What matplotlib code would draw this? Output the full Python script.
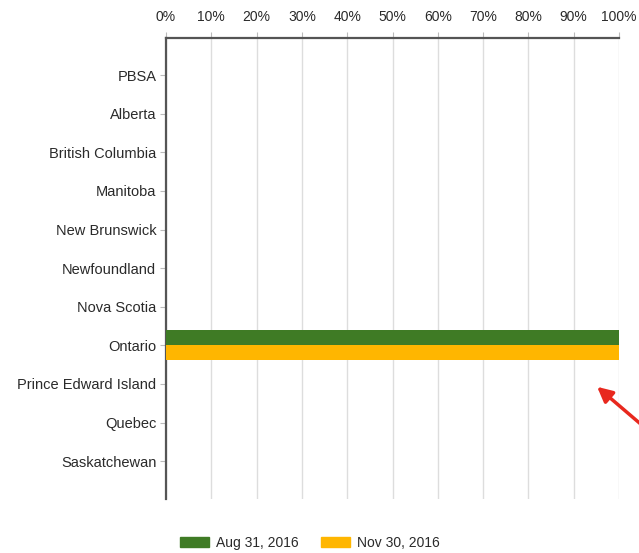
import matplotlib
matplotlib.use("Agg")
import matplotlib.pyplot as plt
from matplotlib.patches import Patch
import numpy as np

categories = ["PBSA", "Alberta", "British Columbia", "Manitoba", "New Brunswick",
              "Newfoundland", "Nova Scotia", "Ontario", "Prince Edward Island",
              "Quebec", "Saskatchewan"]
aug_2016 = [0, 0, 0, 0, 0, 0, 0, 100, 0, 0, 0]
nov_2016 = [0, 0, 0, 0, 0, 0, 0, 100, 0, 0, 0]
series_names = ["Aug 31, 2016", "Nov 30, 2016"]
xticks = list(range(0, 101, 10))

plt.rcParams['font.family'] = ['Liberation Sans', 'DejaVu Sans']

fig = plt.figure(figsize=(6.39, 5.53), dpi=100)
ax = fig.add_axes([166/639, 1-499/553, (619-166)/639, (499-38)/553])

y = np.arange(len(categories))
h = 0.39
green = "#3f7b25"
yellow = "#ffb600"
ax.barh(y - h/2, aug_2016, height=h, color=green, zorder=3)
ax.barh(y + h/2, nov_2016, height=h, color=yellow, zorder=3)

ax.set_xlim(0, 100)
ax.set_ylim(10.98, -0.96)
ax.set_yticks(y)
ax.set_yticklabels(categories)
ax.set_xticks(xticks)
ax.set_xticklabels([f"{v}%" for v in xticks])
ax.xaxis.tick_top()
ax.tick_params(axis='x', length=4, color="#bbbbbb", labelsize=10, labelcolor="#2a2a2a", pad=6)
ax.tick_params(axis='y', length=4, color="#bbbbbb", labelsize=10.5, labelcolor="#2a2a2a", pad=3)
ax.grid(axis='x', color="#dddddd", linewidth=1, zorder=0)
for s in ["right", "bottom"]:
    ax.spines[s].set_visible(False)
ax.spines["left"].set_color("#555555")
ax.spines["left"].set_linewidth(1.6)
ax.spines["top"].set_color("#555555")
ax.spines["top"].set_linewidth(1.6)

handles = [Patch(color=green), Patch(color=yellow)]
fig.legend(handles, series_names, loc="center", bbox_to_anchor=(310/639, 1-543/553),
           ncol=2, frameon=False, fontsize=10, handlelength=2.1, handleheight=0.8,
           columnspacing=1.6, handletextpad=0.5, labelcolor="#2a2a2a")

ax.annotate("", xy=(595, 553-385), xycoords="figure pixels",
            xytext=(650, 553-432), textcoords="figure pixels",
            arrowprops=dict(arrowstyle="-|>,head_length=0.9,head_width=0.45",
                            color="#e8281e", lw=2.5), annotation_clip=False)

fig.savefig("out.png", dpi=100)
